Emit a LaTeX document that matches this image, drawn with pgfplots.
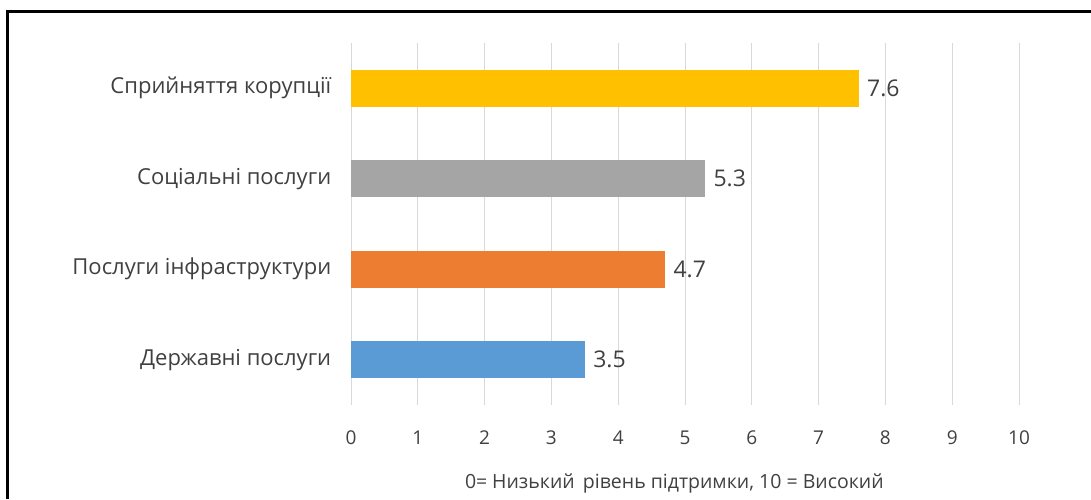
\documentclass[border=0pt]{standalone}
\usepackage{pgfplots}
\pgfplotsset{compat=1.18}
\usepackage{fontspec}
\setmainfont{Open Sans}
\definecolor{cBlue}{HTML}{5B9BD5}
\definecolor{cOrange}{HTML}{ED7D31}
\definecolor{cGray}{HTML}{A5A5A5}
\definecolor{cGold}{HTML}{FFC000}
\definecolor{txt}{HTML}{404040}
\definecolor{grd}{HTML}{D9D9D9}
\begin{document}
\begin{tikzpicture}[x=1pt,y=1pt]
\path[use as bounding box] (0,0) rectangle (1091,499);
\draw[line width=3pt] (7.5,0) -- (7.5,487.5) -- (1091,487.5);
\begin{axis}[
 at={(351pt,94pt)}, anchor=south west,
 width=668pt, height=362pt, scale only axis,
 xbar, bar width=37pt, bar shift=0pt,
 xmin=0, xmax=10, xtick={0,1,2,3,4,5,6,7,8,9,10},
 ymin=-0.5, ymax=3.5, ytick={0,1,2,3},
 yticklabels={Державні послуги, Послуги інфраструктури, Соціальні послуги, Сприйняття корупції},
 xmajorgrids, grid style={grd, line width=1pt},
 axis line style={draw=none}, major tick style={draw=none},
 xticklabel style={font=\fontsize{19}{23}\selectfont, text=txt, yshift=-22pt},
 yticklabel style={font=\fontsize{22}{26}\selectfont, text=txt, xshift=-12pt},
 /pgf/number format/assume math mode=true,
 xlabel={0=\hspace{0.25em}Низький\hspace{0.42em}рівень підтримки, 10 = Високий},
 xlabel style={font=\fontsize{19.5}{23}\selectfont, text=txt, anchor=center, at={(axis description cs:0.484,-0.218)}},
 nodes near coords,
 point meta=x,
 nodes near coords style={font=\fontsize{23}{27}\selectfont, text=txt, xshift=5pt, /pgf/number format/.cd, fixed, fixed zerofill, precision=1, assume math mode=true},
]
\addplot[fill=cBlue, draw=none] coordinates {(3.5,0)};
\addplot[fill=cOrange, draw=none] coordinates {(4.7,1)};
\addplot[fill=cGray, draw=none] coordinates {(5.3,2)};
\addplot[fill=cGold, draw=none] coordinates {(7.6,3)};
\end{axis}
\end{tikzpicture}
\end{document}
